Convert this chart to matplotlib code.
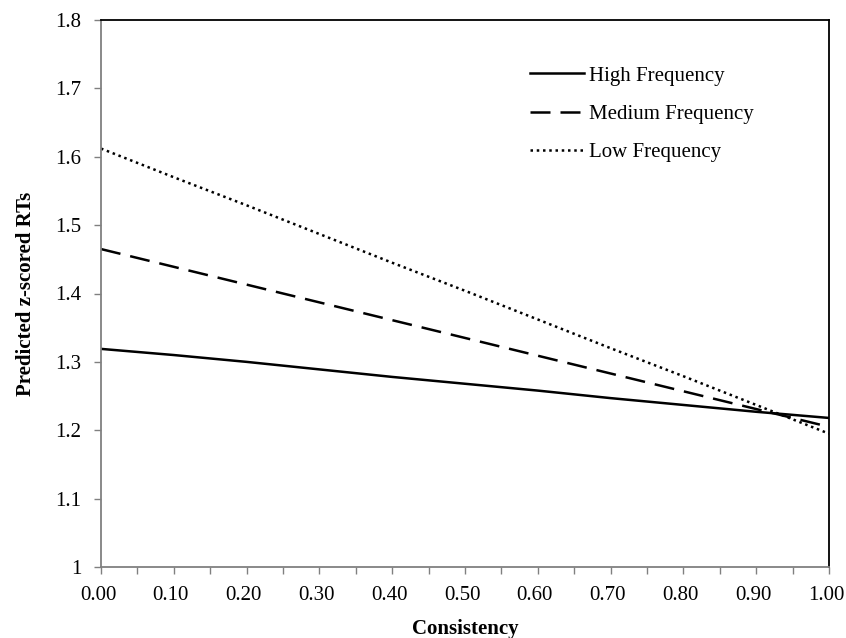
import numpy as np
import matplotlib.pyplot as plt
import matplotlib.transforms as mtransforms

plt.rcParams['font.family'] = ['Liberation Serif', 'DejaVu Serif']

# consistency values and predicted z-scored RTs per frequency band
consistency = [0.0, 0.1, 0.2, 0.3, 0.4, 0.5, 0.6, 0.7, 0.8, 0.9, 1.0]
high_freq = [1.319, 1.310, 1.300, 1.289, 1.278, 1.268, 1.258, 1.247, 1.237, 1.227, 1.218]
medium_freq = [1.465, 1.439, 1.413, 1.387, 1.361, 1.335, 1.309, 1.283, 1.257, 1.231, 1.205]
low_freq = [1.612, 1.570, 1.529, 1.487, 1.445, 1.404, 1.362, 1.320, 1.279, 1.237, 1.195]

xtick_labels = ["0.00", "0.10", "0.20", "0.30", "0.40", "0.50", "0.60", "0.70", "0.80", "0.90", "1.00"]
ytick_labels = ["1", "1.1", "1.2", "1.3", "1.4", "1.5", "1.6", "1.7", "1.8"]

fig = plt.figure(figsize=(8.46, 6.38), dpi=100)
ax = fig.add_axes([101/846, 1 - 567/638, (829-101)/846, (567-20)/638])

ax.plot(consistency, high_freq, c="k", lw=1.8, label="High Frequency")
ax.plot(consistency, medium_freq, c="k", lw=1.8, dashes=(8, 4), label="Medium Frequency")
ax.plot(consistency, low_freq, c="k", lw=1.8, dashes=(1, 1.5), label="Low Frequency")

ax.set_xlim(0, 1)
ax.set_ylim(1, 1.8)
ax.set_xticks(np.arange(0, 1.01, 0.1))
ax.set_xticklabels(xtick_labels)
ax.set_xticks(np.arange(0.05, 1.0, 0.1), minor=True)
ax.set_yticks(np.arange(1, 1.81, 0.1))
ax.set_yticklabels(ytick_labels)

ax.tick_params(axis="both", which="both", direction="out", color="#808080", labelsize=15, width=1)
ax.tick_params(axis="x", which="both", length=5, pad=9)
ax.tick_params(axis="y", length=5, pad=9)

# excel nudges the x labels a little to the left
shift = mtransforms.ScaledTranslation(-3/100, 0, fig.dpi_scale_trans)
for lbl in ax.get_xticklabels():
    lbl.set_transform(lbl.get_transform() + shift)

for s in ["left", "bottom"]:
    ax.spines[s].set_color("#808080")
    ax.spines[s].set_linewidth(1.3)
for s in ["top", "right"]:
    ax.spines[s].set_color("k")
    ax.spines[s].set_linewidth(1.3)

ax.set_xlabel("Consistency", fontweight="bold", fontsize=15, labelpad=10)
ax.set_ylabel("Predicted z-scored RTs", fontweight="bold", fontsize=15, labelpad=14)

ax.legend(loc="upper left", bbox_to_anchor=(530/846, 1 - 66/638), bbox_transform=fig.transFigure,
          frameon=False, fontsize=15, borderpad=0, borderaxespad=0,
          handlelength=2.6, handletextpad=0.25, labelspacing=0.9)

fig.savefig("out.png", dpi=100)
